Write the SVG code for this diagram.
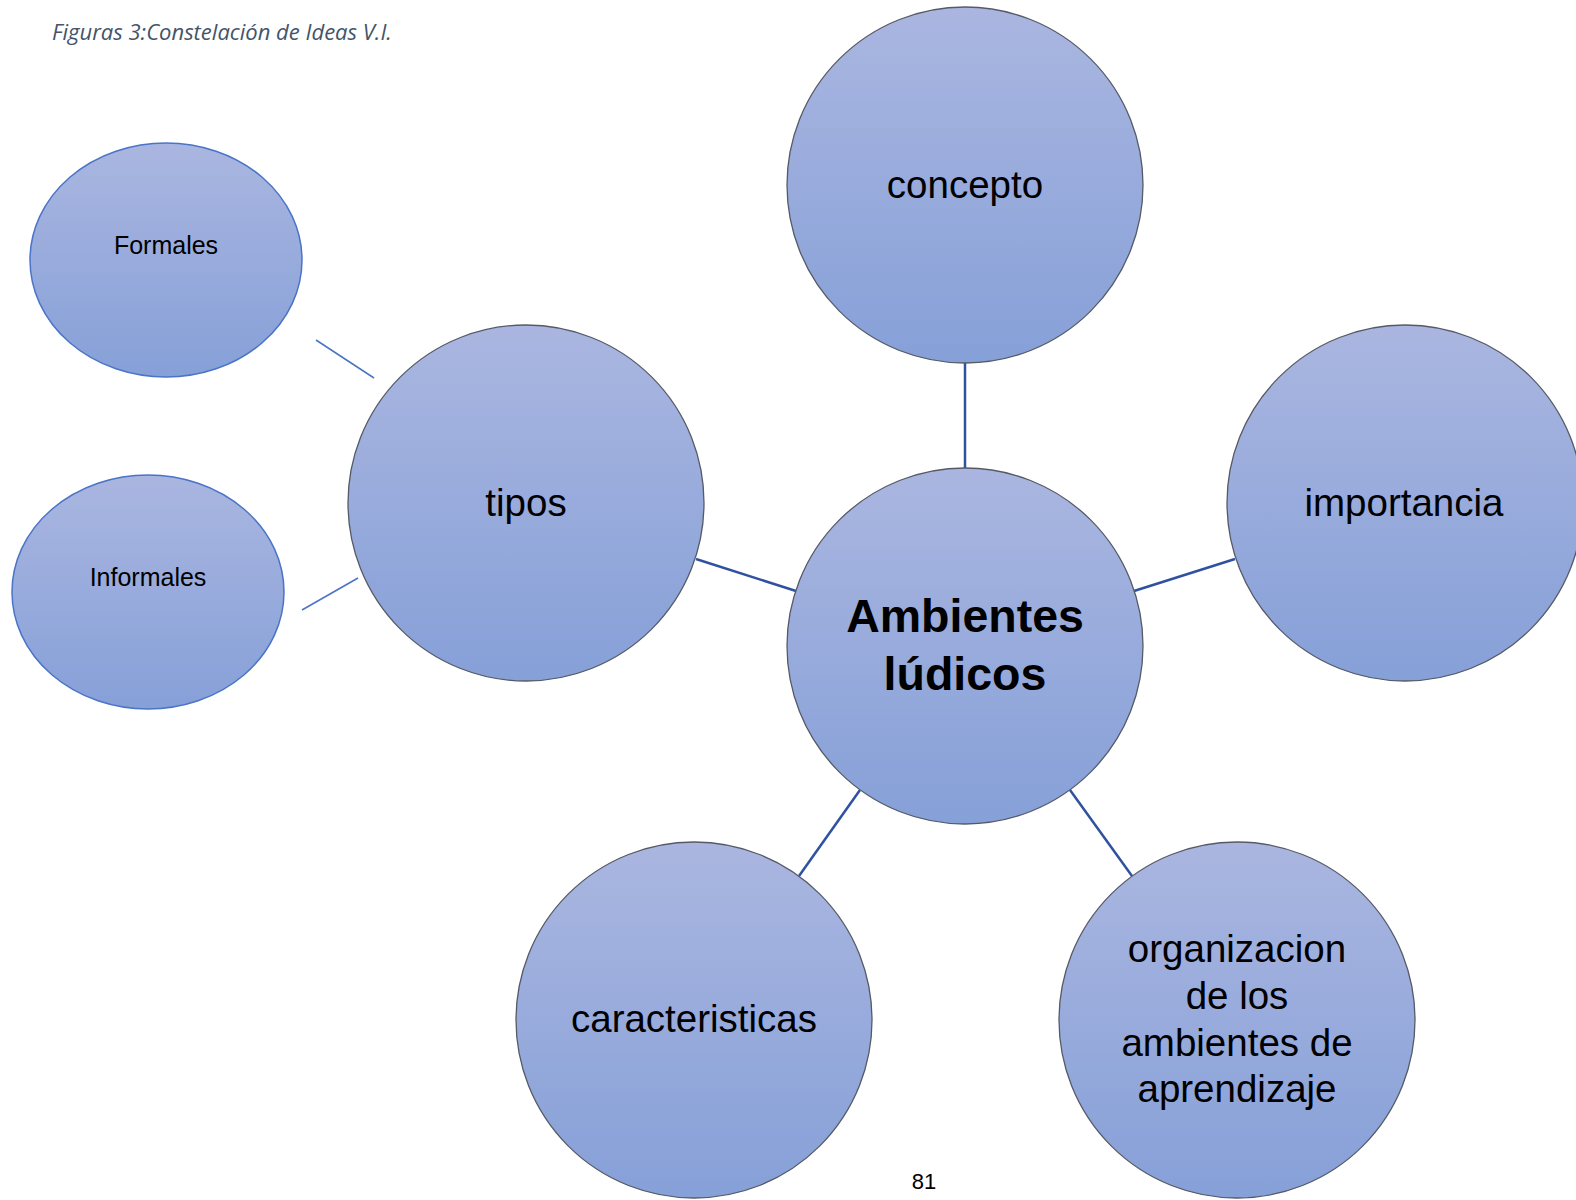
<svg xmlns="http://www.w3.org/2000/svg" width="1576" height="1200" viewBox="0 0 1576 1200">
<defs>
<linearGradient id="g" x1="0" y1="0" x2="0" y2="1">
<stop offset="0" stop-color="#aab6e0"/>
<stop offset="1" stop-color="#86a0d8"/>
</linearGradient>
<style>
.c{fill:url(#g);stroke:#555a66;stroke-width:1.3}
.e{fill:url(#g);stroke:#4a74c6;stroke-width:1.5}
.t{font-family:"Liberation Sans",Arial,sans-serif;fill:#000;text-anchor:middle}
.big{font-size:38.5px}
.sm{font-size:25px}
.ln{stroke:#2f52a0;stroke-width:2.5}
.thin{stroke:#4a74c6;stroke-width:1.5}
</style>
</defs>
<rect width="1576" height="1200" fill="#fff"/>
<text x="52" y="40" font-family="'Open Sans','Liberation Sans',sans-serif" font-style="italic" font-size="22" fill="#44546a">Figuras 3:Constelación de Ideas V.I.</text>
<g id="connectors">
<line class="ln" x1="965" y1="362" x2="965" y2="468"/>
<line class="ln" x1="696" y1="559" x2="796" y2="591"/>
<line class="ln" x1="1134" y1="591" x2="1235" y2="559"/>
<line class="ln" x1="860" y1="790" x2="799" y2="876"/>
<line class="ln" x1="1070" y1="790" x2="1132" y2="876"/>
<line class="thin" x1="316" y1="340" x2="374" y2="378"/>
<line class="thin" x1="302" y1="610" x2="358" y2="578"/>
</g>
<g id="formales"><ellipse class="e" cx="166" cy="260" rx="136" ry="117"/><text class="t sm" x="166" y="254">Formales</text></g>
<g id="informales"><ellipse class="e" cx="148" cy="592" rx="136" ry="117"/><text class="t sm" x="148" y="586">Informales</text></g>
<g id="concepto"><circle class="c" cx="965" cy="185" r="178"/><text class="t big" x="965" y="198">concepto</text></g>
<g id="tipos"><circle class="c" cx="526" cy="503" r="178"/><text class="t big" x="526" y="516">tipos</text></g>
<g id="importancia"><circle class="c" cx="1405" cy="503" r="178"/><text class="t big" x="1404" y="516">importancia</text></g>
<g id="center"><circle class="c" cx="965" cy="646" r="178"/><text class="t" x="965" y="632" font-size="46.5" font-weight="bold">Ambientes</text><text class="t" x="965" y="690" font-size="46.5" font-weight="bold">lúdicos</text></g>
<g id="caracteristicas"><circle class="c" cx="694" cy="1020" r="178"/><text class="t big" x="694" y="1032">caracteristicas</text></g>
<g id="organizacion"><circle class="c" cx="1237" cy="1020" r="178"/><text class="t big" x="1237" y="962">organizacion</text><text class="t big" x="1237" y="1009">de los</text><text class="t big" x="1237" y="1056">ambientes de</text><text class="t big" x="1237" y="1102">aprendizaje</text></g>
<text x="924" y="1189" font-family="'Liberation Sans',sans-serif" font-size="22" text-anchor="middle" fill="#000">81</text>
</svg>
